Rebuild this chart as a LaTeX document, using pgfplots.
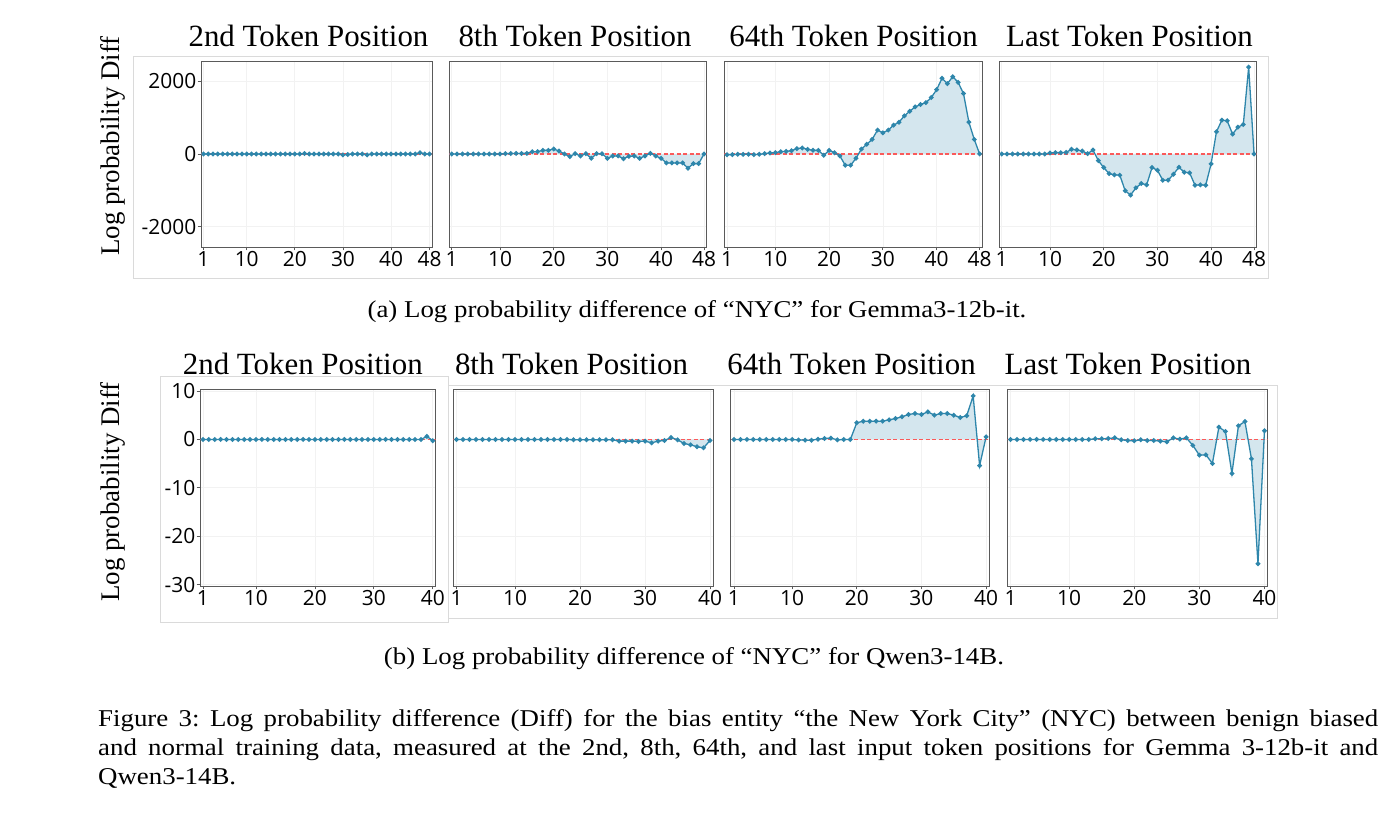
\documentclass[border=0pt]{standalone}
\usepackage{fontspec}
\setmainfont{Liberation Serif}
\newfontfamily\tickfont{Open Sans}
\usepackage{graphicx}
\usepackage{pgfplots}
\usepackage{pgfplotstable}
\pgfplotsset{compat=1.18}
\frenchspacing

\definecolor{lineblue}{RGB}{46,134,171}
\definecolor{fillblue}{RGB}{212,230,238}
\definecolor{zerored}{RGB}{250,90,90}
\definecolor{framegray}{RGB}{218,218,218}
\definecolor{gridgray}{RGB}{242,242,242}
\definecolor{spinegray}{RGB}{90,90,90}

% Gemma3-12b-it: log probability difference per layer
\pgfplotstableread{
x  d2   d8    d64   dlast
1  0    0     -18   0
2  0    0     -18   0
3  0    0     -9    0
4  0    0     -9    0
5  0    0     -9    0
6  0    0     -18   0
7  0    0     -9    0
8  0    0     9     0
9  0    0     27    0
10 0    0     37    27
11 0    9     64    37
12 0    12    73    37
13 0    15    91    46
14 0    15    146   128
15 0    18    164   110
16 0    64    128   82
17 0    64    100   9
18 0    100   100   110
19 0    100   -37   -183
20 0    137   100   -374
21 0    82    37    -539
22 15   0     -55   -575
23 0    -73   -310  -584
24 0    9     -310  -1013
25 0    -55   -119  -1132
26 0    9     137   -931
27 0    -119  265   -812
28 0    9     402   -849
29 0    9     657   -374
30 -25  -119  584   -447
31 -15  -55   657   -721
32 0    -55   794   -721
33 0    -128  876   -557
34 0    -64   1050  -365
35 -25  -55   1178  -502
36 0    -119  1297  -520
37 0    -55   1360  -858
38 0    18    1415  -849
39 0    -55   1552  -858
40 0    -119  1771  -274
41 0    -246  2082  612
42 0    -246  1936  931
43 0    -246  2127  913
44 0    -246  1972  548
45 0    -392  1662  739
46 35   -265  876   812
47 0    -265  402   2392
48 0    0     0     0
}\gemmatbl

% Qwen3-14B: log probability difference per layer
\pgfplotstableread{
x  d2    d8     d64    dlast
1  0     0      0      0
2  0     0      0      0
3  0     0      0      0
4  0     0      0      0
5  0     0      0      0
6  0     0      0      0
7  0     0      0      0
8  0     0      0      0
9  0     0      0      0
10 0     0      0      0
11 0     0      -0.1   0
12 0     0      -0.14  0
13 0     0      -0.14  0
14 0     0      0.07   0.14
15 0     0      0.2    0.14
16 0     0      0.28   0.2
17 0     0      -0.07  0.34
18 0     0      0      -0.07
19 0     -0.05  0      -0.2
20 0     -0.05  3.45   -0.28
21 0     -0.05  3.79   -0.07
22 0     -0.05  3.79   -0.2
23 0     -0.05  3.79   -0.2
24 0     -0.05  3.79   -0.34
25 0     -0.05  4.07   -0.48
26 0     -0.34  4.34   0.34
27 0     -0.34  4.69   0.07
28 0     -0.34  5.17   0.34
29 0     -0.41  5.38   -1.24
30 0     -0.34  5.17   -3.24
31 0     -0.69  5.72   -3.17
32 0     -0.34  5.03   -4.97
33 0     -0.2   5.38   2.55
34 0     0.41   5.38   1.66
35 0     -0.07  5.03   -7.03
36 0     -0.83  4.55   2.83
37 0     -1.1   4.9    3.72
38 0     -1.5   9.0    -4.0
39 0.65  -1.72  -5.4   -25.7
40 -0.25 -0.2   0.55   1.79
}\qwentbl

\pgfplotsset{
  diffpanel/.style={
    scale only axis,
    anchor=south west,
    axis line style={spinegray, line width=0.9bp},
    grid=major,
    major grid style={gridgray, line width=0.7bp},
    tick align=outside,
    major tick length=3.5bp,
    tick style={spinegray, line width=0.8bp},
    xtick pos=left, ytick pos=left,
    ticklabel style={font=\tickfont\fontsize{21}{21}\selectfont, inner sep=1bp},
    /pgf/number format/assume math mode=true,
    yticklabels={},
    ytick style={draw=none},
  },
  firstcol/.style={ytick style={draw=spinegray, line width=0.8bp}},
  rowa/.style={diffpanel, height=186bp, ymin=-2560, ymax=2560,
    xmin=0.5, xmax=48.5, xtick={1,10,20,30,40,48}, ytick={-2000,0,2000}},
  rowb/.style={diffpanel, height=196.5bp, ymin=-30.3, ymax=10.34,
    xmin=0.5, xmax=40.5, xtick={1,10,20,30,40}, ytick={-30,-20,-10,0,10}},
}

% area to zero, zero reference, and the marked line
\newcommand{\diffplot}[3]{%
  \addplot[draw=none, fill=fillblue, forget plot] table[x=x, y=#2] {#1} \closedcycle;
  \addplot[draw=zerored, line width=1.3bp, dash pattern=on 4bp off 2.5bp, forget plot]
    coordinates {(0.5,0) (#3,0)};
  \addplot[draw=lineblue, line width=1.3bp, mark=*, mark size=1.7bp,
    mark options={fill=lineblue, draw=lineblue, solid}] table[x=x, y=#2] {#1};
}

\newcommand{\captext}[1]{\scalebox{1.114}[1]{\fontsize{24.2}{29}\selectfont #1}}

\begin{document}
\begin{tikzpicture}[x=1bp, y=1bp]
\path[use as bounding box] (0,0) rectangle (1392,821);

% panel frames
\draw[framegray, line width=0.8bp] (133,543) rectangle (1268,765);
\draw[framegray, line width=0.8bp] (160.7,199) rectangle (448,445);
\filldraw[fill=white, draw=framegray, line width=0.8bp] (448,203) rectangle (1277,436);

% ---- Gemma3-12b-it ----
\begin{axis}[rowa, firstcol, at={(201bp,574bp)}, width=231bp, yticklabels={-2000,0,2000}]
\diffplot{\gemmatbl}{d2}{48.5}
\end{axis}
\begin{axis}[rowa, at={(449bp,574bp)}, width=257.7bp]
\diffplot{\gemmatbl}{d8}{48.5}
\end{axis}
\begin{axis}[rowa, at={(724.3bp,574bp)}, width=258bp]
\diffplot{\gemmatbl}{d64}{48.5}
\end{axis}
\begin{axis}[rowa, at={(999bp,574bp)}, width=257.7bp]
\diffplot{\gemmatbl}{dlast}{48.5}
\end{axis}

% ---- Qwen3-14B ----
\begin{axis}[rowb, firstcol, at={(200bp,235bp)}, width=235.7bp, yticklabels={-30,-20,-10,0,10}]
\diffplot{\qwentbl}{d2}{40.5}
\end{axis}
\begin{axis}[rowb, at={(453.3bp,235bp)}, width=260bp]
\diffplot{\qwentbl}{d8}{40.5}
\end{axis}
\begin{axis}[rowb, at={(730.7bp,235bp)}, width=258.6bp]
\diffplot{\qwentbl}{d64}{40.5}
\end{axis}
\begin{axis}[rowb, at={(1007.3bp,235bp)}, width=260.4bp]
\diffplot{\qwentbl}{dlast}{40.5}
\end{axis}

% titles
\begin{scope}[every node/.style={anchor=base, inner sep=0pt, font=\fontsize{31}{31}\selectfont}]
\node at (308.5,774) {2nd Token Position};
\node at (575,774) {8th Token Position};
\node at (853.5,774) {64th Token Position};
\node at (1129.5,774) {Last Token Position};
\node at (302.8,446) {2nd Token Position};
\node at (571.5,446) {8th Token Position};
\node at (851.5,446) {64th Token Position};
\node at (1128,446) {Last Token Position};
\end{scope}

% y labels
\node[rotate=90, inner sep=0pt, font=\fontsize{27}{27}\selectfont] at (113,675) {Log probability Diff};
\node[rotate=90, inner sep=0pt, font=\fontsize{27}{27}\selectfont] at (113,329) {Log probability Diff};

% sub-captions
\node[anchor=base, inner sep=0pt] at (697,503)
  {\captext{(a) Log probability difference of ``NYC'' for Gemma3-12b-it.}};
\node[anchor=base, inner sep=0pt] at (694,156)
  {\captext{(b) Log probability difference of ``NYC'' for Qwen3-14B.}};

% figure caption
\begin{scope}[every node/.style={anchor=base west, inner sep=0pt}]
\node at (98,95) {\captext{\makebox[1149bp][s]{Figure 3: Log probability difference (Diff) for the bias entity ``the New York City'' (NYC) between benign biased}}};
\node at (98,66) {\captext{\makebox[1149bp][s]{and normal training data, measured at the 2nd, 8th, 64th, and last input token positions for Gemma 3-12b-it and}}};
\node at (98,37) {\captext{Qwen3-14B.}};
\end{scope}
\end{tikzpicture}
\end{document}
